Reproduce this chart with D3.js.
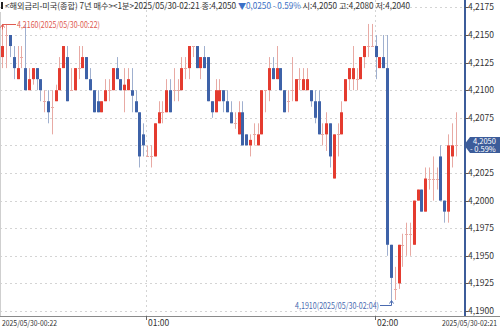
<!DOCTYPE html>
<html>
<head>
<meta charset="utf-8">
<script src="https://cdn.jsdelivr.net/npm/d3@7"></script>
<style>
body { margin: 0; background: #fff; }
svg { display: block; font-family: "Noto Sans CJK KR", "Noto Sans", sans-serif; }
</style>
</head>
<body>
<div id="chart"></div>
<script>
// 1분봉 시가/고가/저가/종가 (00:22 ~ 02:21)
const openP = [4.2130,4.2150,4.2150,4.2130,4.2110,4.2130,4.2120,4.2100,4.2110,4.2120,
  4.2110,4.2090,4.2090,4.2085,4.2090,4.2100,4.2120,4.2130,4.2100,4.2100,
  4.2120,4.2120,4.2130,4.2110,4.2100,4.2090,4.2080,4.2090,4.2100,4.2100,
  4.2120,4.2110,4.2100,4.2100,4.2100,4.2090,4.2080,4.2060,4.2040,4.2040,
  4.2040,4.2070,4.2080,4.2080,4.2100,4.2100,4.2100,4.2100,4.2120,4.2120,
  4.2140,4.2140,4.2120,4.2130,4.2130,4.2090,4.2080,4.2090,4.2100,4.2090,
  4.2080,4.2070,4.2060,4.2080,4.2060,4.2050,4.2060,4.2050,4.2060,4.2100,
  4.2100,4.2120,4.2110,4.2120,4.2100,4.2090,4.2100,4.2090,4.2110,4.2100,
  4.2100,4.2100,4.2090,4.2090,4.2060,4.2060,4.2070,4.2020,4.2060,4.2060,
  4.2090,4.2110,4.2110,4.2110,4.2110,4.2130,4.2140,4.2140,4.2140,4.2120,
  4.2130,4.2120,4.1960,4.1920,4.1925,4.1960,4.1970,4.1970,4.1960,4.2000,
  4.2010,4.1990,4.2020,4.2020,4.2020,4.2040,4.2000,4.1990,4.2040,4.2050];
const highP = [4.2160,4.2160,4.2150,4.2140,4.2140,4.2140,4.2160,4.2120,4.2120,4.2120,
  4.2110,4.2100,4.2100,4.2100,4.2105,4.2130,4.2140,4.2140,4.2120,4.2120,
  4.2140,4.2140,4.2130,4.2120,4.2100,4.2100,4.2090,4.2110,4.2110,4.2120,
  4.2130,4.2110,4.2120,4.2120,4.2120,4.2100,4.2080,4.2070,4.2050,4.2050,
  4.2070,4.2090,4.2090,4.2110,4.2110,4.2120,4.2110,4.2130,4.2130,4.2140,
  4.2140,4.2140,4.2130,4.2140,4.2130,4.2090,4.2110,4.2110,4.2100,4.2100,
  4.2090,4.2080,4.2090,4.2090,4.2060,4.2060,4.2070,4.2070,4.2100,4.2100,
  4.2130,4.2130,4.2140,4.2120,4.2100,4.2100,4.2130,4.2110,4.2120,4.2120,
  4.2120,4.2100,4.2100,4.2100,4.2070,4.2080,4.2070,4.2060,4.2070,4.2090,
  4.2110,4.2120,4.2140,4.2120,4.2130,4.2140,4.2160,4.2160,4.2150,4.2130,
  4.2150,4.2150,4.1960,4.1940,4.1960,4.1970,4.1980,4.1980,4.2000,4.2010,
  4.2010,4.2030,4.2030,4.2040,4.2030,4.2050,4.2000,4.2060,4.2070,4.2080];
const lowP = [4.2120,4.2120,4.2130,4.2110,4.2110,4.2120,4.2100,4.2100,4.2105,4.2100,
  4.2090,4.2080,4.2070,4.2060,4.2090,4.2100,4.2120,4.2090,4.2100,4.2100,
  4.2110,4.2120,4.2110,4.2100,4.2080,4.2080,4.2080,4.2090,4.2090,4.2100,
  4.2110,4.2100,4.2080,4.2100,4.2080,4.2080,4.2030,4.2040,4.2040,4.2030,
  4.2040,4.2070,4.2070,4.2080,4.2080,4.2090,4.2090,4.2100,4.2110,4.2110,
  4.2130,4.2120,4.2110,4.2120,4.2090,4.2075,4.2080,4.2090,4.2080,4.2080,
  4.2070,4.2065,4.2060,4.2050,4.2050,4.2040,4.2050,4.2050,4.2060,4.2080,
  4.2090,4.2110,4.2110,4.2100,4.2080,4.2080,4.2090,4.2090,4.2100,4.2100,
  4.2100,4.2085,4.2070,4.2060,4.2050,4.2045,4.2030,4.2020,4.2040,4.2060,
  4.2090,4.2100,4.2100,4.2100,4.2110,4.2120,4.2130,4.2140,4.2110,4.2120,
  4.2120,4.1950,4.1910,4.1910,4.1920,4.1940,4.1950,4.1950,4.1960,4.2000,
  4.1990,4.1990,4.2010,4.2000,4.2010,4.2000,4.1980,4.1980,4.2030,4.2040];
const closeP = [4.2140,4.2150,4.2140,4.2120,4.2120,4.2130,4.2100,4.2110,4.2120,4.2110,
  4.2100,4.2090,4.2080,4.2085,4.2100,4.2120,4.2140,4.2090,4.2100,4.2120,
  4.2120,4.2130,4.2110,4.2100,4.2080,4.2080,4.2090,4.2100,4.2100,4.2120,
  4.2110,4.2100,4.2105,4.2110,4.2095,4.2080,4.2040,4.2050,4.2040,4.2040,
  4.2070,4.2080,4.2080,4.2100,4.2080,4.2100,4.2100,4.2120,4.2120,4.2140,
  4.2140,4.2120,4.2130,4.2120,4.2090,4.2080,4.2100,4.2100,4.2090,4.2080,
  4.2070,4.2070,4.2080,4.2050,4.2050,4.2055,4.2060,4.2060,4.2100,4.2100,
  4.2120,4.2110,4.2120,4.2100,4.2080,4.2090,4.2100,4.2110,4.2110,4.2110,
  4.2110,4.2090,4.2075,4.2060,4.2060,4.2070,4.2040,4.2060,4.2060,4.2080,
  4.2110,4.2120,4.2120,4.2110,4.2130,4.2140,4.2140,4.2140,4.2130,4.2130,
  4.2120,4.1960,4.1930,4.1920,4.1960,4.1960,4.1970,4.1970,4.2000,4.2010,
  4.1990,4.2020,4.2020,4.2020,4.2020,4.2000,4.1990,4.2050,4.2050,4.2050];

const yTicks = [4.1900,4.1925,4.1950,4.1975,4.2000,4.2025,4.2050,4.2075,4.2100,4.2125,4.2150,4.2175];
const gridTimes = ["01:00", "02:00"];
const startLabel = "2025/05/30-00:22";
const endLabel = "2025/05/30-02:21";
const titleParts = ["<해외금리-미국(종합) 7년 매수><1분>2025/05/30-02:21 종:4,2050 ",
  "▼0,0250 - 0.59% ", "시:4,2050 고:4,2080 저:4,2040"];
const lastPrice = "4,2050", lastChange = "- 0.59%";

const width = 500, height = 328;
const plotRight = 465, plotBottom = 316;

const t0 = new Date(2025, 4, 30, 0, 22);
const times = d3.timeMinute.range(t0, d3.timeMinute.offset(t0, openP.length));
const bars = times.map((t, i) => ({ t, o: openP[i], h: highP[i], l: lowP[i], c: closeP[i] }));
const last = closeP[closeP.length - 1];

const x = d3.scaleTime()
  .domain([t0, times[times.length - 1]])
  .range([1.3, 1.3 + 3.81 * (times.length - 1)]);
const y = d3.scaleLinear().domain([4.1900, 4.2175]).range([311, 7.4]);
const fmt = v => d3.format(".4f")(v).replace(".", ",");

const svg = d3.select("#chart").append("svg")
  .attr("width", width).attr("height", height);

// grid
svg.append("g").selectAll("line").data(yTicks).join("line")
  .attr("x1", 0).attr("x2", plotRight)
  .attr("y1", d => Math.round(y(d)) + 0.5).attr("y2", d => Math.round(y(d)) + 0.5)
  .attr("stroke", "#d4d4d4").attr("stroke-dasharray", "2,3");

const parseHM = d3.timeParse("%Y-%m-%d %H:%M");
const gridDates = gridTimes.map(s => parseHM("2025-05-30 " + s));
svg.append("g").selectAll("line").data(gridDates).join("line")
  .attr("x1", d => Math.round(x(d)) + 0.5).attr("x2", d => Math.round(x(d)) + 0.5)
  .attr("y1", 0).attr("y2", plotBottom)
  .attr("stroke", "#d4d4d4").attr("stroke-dasharray", "2,3");

svg.append("line").attr("x1", 0.5).attr("x2", 0.5).attr("y1", 12).attr("y2", plotBottom)
  .attr("stroke", "#cfcfcf");

// candles
const up = "#e43b2f", down = "#3e62a8";
const upWick = "#e8aaa4", downWick = "#a0b0cf";
const cx = d => Math.round(x(d.t) + 1);
const g = svg.append("g");
g.selectAll(".wick").data(bars).join("line")
  .attr("x1", d => cx(d) + 0.5).attr("x2", d => cx(d) + 0.5)
  .attr("y1", d => y(d.h)).attr("y2", d => y(d.l))
  .attr("stroke", d => d.c < d.o ? downWick : upWick);
g.selectAll(".body").data(bars).join("rect")
  .attr("x", d => cx(d) - 1)
  .attr("width", 3)
  .attr("y", d => d.c === d.o ? Math.round(y(d.c)) : y(Math.max(d.o, d.c)))
  .attr("height", d => d.c === d.o ? 1 : Math.abs(y(d.o) - y(d.c)))
  .attr("fill", d => d.c === d.o ? upWick : (d.c > d.o ? up : down));

// axes lines
svg.append("line").attr("x1", 0).attr("x2", width)
  .attr("y1", plotBottom + 0.5).attr("y2", plotBottom + 0.5).attr("stroke", "#8a8a8a");
svg.append("line").attr("x1", plotRight).attr("x2", plotRight)
  .attr("y1", 0).attr("y2", plotBottom).attr("stroke", "#3c5c9a").attr("stroke-width", 2);

// y labels (the last price tick sits under the price box)
const yl = svg.append("g").selectAll("g").data(yTicks.filter(d => Math.abs(d - last) > 1e-6)).join("g")
  .attr("transform", d => `translate(${plotRight},${Math.round(y(d)) + 0.5})`);
yl.append("line").attr("x1", 0).attr("x2", 3).attr("stroke", "#555");
yl.append("text").attr("x", 3).attr("dy", "0.35em")
  .attr("font-size", 8.5).attr("fill", "#333").text(fmt);

// x labels
svg.append("g").selectAll("line").data(gridDates).join("line")
  .attr("x1", d => Math.round(x(d)) + 0.5).attr("x2", d => Math.round(x(d)) + 0.5)
  .attr("y1", plotBottom).attr("y2", plotBottom + 4).attr("stroke", "#666");
svg.append("g").selectAll("text").data(gridDates).join("text")
  .attr("x", d => Math.round(x(d)) + 2).attr("y", 326)
  .attr("font-size", 8.5).attr("fill", "#333")
  .text((d, i) => gridTimes[i]);
svg.append("text").attr("x", 2).attr("y", 326).attr("font-size", 8).attr("fill", "#333")
  .attr("textLength", 55).attr("lengthAdjust", "spacingAndGlyphs").text(startLabel);
svg.append("text").attr("x", 497).attr("y", 326).attr("text-anchor", "end")
  .attr("font-size", 8).attr("fill", "#333")
  .attr("textLength", 55).attr("lengthAdjust", "spacingAndGlyphs").text(endLabel);

// title: one line, three colour runs
svg.append("rect").attr("x", 1).attr("y", 2).attr("width", 2).attr("height", 7).attr("fill", "#222");
const tc = ["#333", "#3b6fc6", "#333"];
svg.append("text").attr("x", 5).attr("y", 9).attr("font-size", 8.5)
  .attr("textLength", 405).attr("lengthAdjust", "spacingAndGlyphs")
  .selectAll("tspan").data(titleParts).join("tspan")
  .attr("fill", (d, i) => tc[i]).text(d => d);

// max / min annotations
const hiIdx = d3.maxIndex(bars, d => d.h);
const loIdx = d3.minIndex(bars, d => d.l);
const hb = bars[hiIdx], lb = bars[loIdx];
const fmtT = d3.timeFormat("%Y/%m/%d-%H:%M");
const hx = cx(hb) + 0.5, hy = Math.round(y(hb.h)) + 0.5;
svg.append("path").attr("d", `M${hx},${hy + 5}V${hy}H16`).attr("fill", "none").attr("stroke", "#e05a50");
svg.append("path").attr("d", `M${hx - 2},${hy + 3}L${hx},${hy}L${hx + 2},${hy + 3}`).attr("fill", "none").attr("stroke", "#e05a50");
svg.append("text").attr("x", 17).attr("y", hy + 3).attr("font-size", 8.5).attr("fill", "#e05a50")
  .attr("textLength", 83).attr("lengthAdjust", "spacingAndGlyphs")
  .text(`${fmt(hb.h)}(${fmtT(hb.t)})`);

const lx = cx(lb) + 0.5, ly = Math.round(y(lb.l)) + 0.5;
svg.append("path").attr("d", `M380,${ly + 5}H${lx}V${ly}`).attr("fill", "none").attr("stroke", "#4a6bb0");
svg.append("path").attr("d", `M${lx - 2},${ly + 3}L${lx},${ly}L${lx + 2},${ly + 3}`).attr("fill", "none").attr("stroke", "#4a6bb0");
svg.append("text").attr("x", 295).attr("y", ly + 8).attr("font-size", 8.5).attr("fill", "#4a6bb0")
  .attr("textLength", 84).attr("lengthAdjust", "spacingAndGlyphs")
  .text(`${fmt(lb.l)}(${fmtT(lb.t)})`);

// last price box
const py = Math.round(y(last));
svg.append("path")
  .attr("d", `M${plotRight - 1},${py}L${plotRight + 5},${py - 8}H${width}V${py + 8}H${plotRight + 5}Z`)
  .attr("fill", "#3c5c9a");
const box = svg.append("text").attr("font-size", 7.5).attr("fill", "#fff");
box.append("tspan").attr("x", 473).attr("y", py - 1).text(lastPrice);
box.append("tspan").attr("x", 470).attr("y", py + 7).text(lastChange);
</script>
</body>
</html>
